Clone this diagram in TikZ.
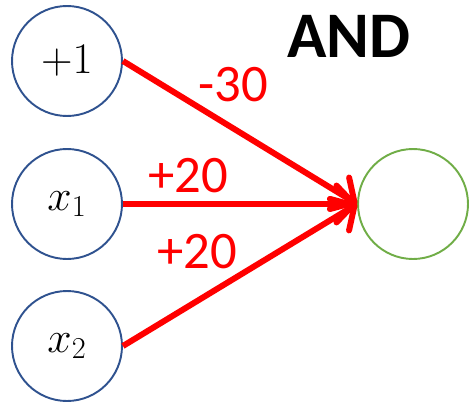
\documentclass[tikz,border=0pt]{standalone}
\usepackage{fontspec}
\setmainfont{Carlito}
\usepackage{tikz}
\usetikzlibrary{arrows.meta}
\definecolor{unitin}{RGB}{47,82,143}
\definecolor{unitout}{RGB}{112,173,71}
\definecolor{wt}{RGB}{255,0,0}

\begin{document}
\begin{tikzpicture}[x=0.02cm,y=0.02cm,
  unit/.style={circle,line width=1.1pt,minimum size=2.2cm,inner sep=0pt,
    text=black,font=\fontsize{26}{30}\selectfont},
  inunit/.style={unit,draw=unitin}, outunit/.style={unit,draw=unitout},
  wire/.style={wt,line width=3.4pt,-{Straight Barb[length=10pt,width=21pt,round]}},
  weight/.style={wt,font=\fontsize{30}{33}\selectfont}]
\useasboundingbox (0,0) rectangle (469,403);

% inputs
\node[inunit] (in1) at (67,342) {$+1$};
\node[inunit] (x1) at (67,199) {$x_1$};
\node[inunit] (x2) at (67,57) {$x_2$};

% output
\node[outunit] (out) at (413,199) {};
\node[font=\fontsize{37}{40}\selectfont\bfseries] (gate) at (349,367) {AND};

% weights
\draw[wire] (in1.east) -- (out.west);
\draw[wire] (x1.east) -- (out.west);
\draw[wire] (x2.east) -- (out.west);
\node[weight] (w0) at (233,318) {-30};
\node[weight] (w1) at (188,227) {+20};
\node[weight] (w2) at (197,151) {+20};

\end{tikzpicture}
\end{document}
